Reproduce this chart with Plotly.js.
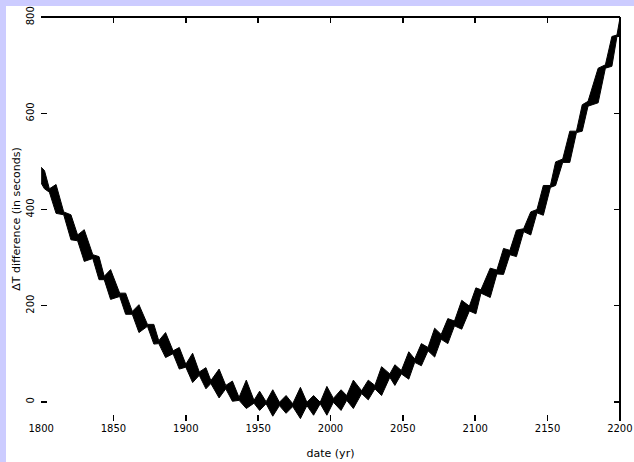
<!DOCTYPE html>
<html>
<head>
<meta charset="utf-8">
<script src="https://cdn.plot.ly/plotly-3.0.1.min.js"></script>
<style>
html,body{margin:0;padding:0;background:#ccccff;width:634px;height:462px;overflow:hidden;}
#chart{position:absolute;left:6px;top:6px;width:628px;height:456px;background:#fff;}
</style>
</head>
<body>
<div id="chart"></div>
<script>
// Envelope of the dense oscillating curve
var years = [1800,1802.3,1805.7,1810.3,1815.6,1820.6,1825.2,1829.8,1835.7,1840,1843.6,1848,1854.3,1858.4,1863,1867.6,1873.5,1877.9,1881.3,1886,1891.2,1895.5,1900,1904.7,1909.3,1913.9,1917.3,1923,1927.6,1932.2,1936.8,1941.8,1947.1,1951,1955.5,1960.1,1964.7,1969.3,1973.9,1979.2,1983.7,1988.3,1992.9,1997.5,2002,2007.3,2011.2,2015.8,2021.5,2026.1,2030.7,2035.3,2041,2044.5,2049,2054.1,2058.2,2062.8,2067.4,2072,2076.5,2081.1,2085.7,2090.7,2096,2100.5,2104,2110.4,2115,2119.6,2124,2128.5,2133.5,2138.4,2142.7,2147.1,2152,2155.6,2160.5,2165.4,2170,2174,2178,2185,2190,2194.5,2198,2200];
var upper = [488,481,443,452,395,389,347,358,306,302,261,275,226,226,188,202,161,161,127,144,106,113,78,101,62,71,44,68,34,43,9,45,3,22,0,25,-1,13,-4,30,-1,13,-1,32,7,25,13,45,23,45,34,73,58,77,65,104,89,121,113,153,140,173,168,211,199,237,233,278,274,319,315,357,360,395,400,450,450,499,505,563,563,618,625,694,701,760,763,797];
var lower = [455,443,436,392,389,337,335,292,298,254,254,213,219,182,182,144,157,120,121,92,100,68,72,40,55,27,38,8,27,1,3,-14,-3,-18,-4,-30,-8,-24,-10,-35,-8,-28,-4,-28,-1,-18,3,-14,17,4,27,13,51,34,58,47,82,75,106,93,130,121,158,151,189,183,226,217,266,265,306,302,354,347,393,388,446,450,498,498,560,563,615,622,694,698,760,760];

var xTicks = [1800,1850,1900,1950,2000,2050,2100,2150,2200];
var yTicks = [0,200,400,600,800];

var traces = [
  {x: years, y: lower, type: 'scatter', mode: 'lines', line: {color: '#000', width: 1}, hoverinfo: 'skip', showlegend: false},
  {x: years, y: upper, type: 'scatter', mode: 'lines', fill: 'tonexty', fillcolor: '#000', line: {color: '#000', width: 1}, hoverinfo: 'skip', showlegend: false}
];

var fontFam = 'DejaVu Sans, Arial, sans-serif';
var layout = {
  width: 628, height: 456,
  margin: {l: 35, r: 14, t: 11, b: 41},
  paper_bgcolor: '#fff', plot_bgcolor: '#fff',
  font: {family: fontFam, size: 10, color: '#000'},
  xaxis: {
    range: [1799.9, 2200.1], tickvals: xTicks, ticktext: xTicks.map(String),
    ticks: 'inside', ticklen: 6, tickwidth: 1.5, tickcolor: '#000',
    showline: false, mirror: 'allticks', showgrid: false, zeroline: false,
    ticklabeloverflow: 'allow', automargin: false,
    tickfont: {size: 10, family: fontFam},
    title: {text: 'date (yr)', font: {size: 11, family: fontFam}, standoff: 16}
  },
  yaxis: {
    range: [-40, 800.5], tickvals: yTicks, ticktext: yTicks.map(String),
    ticks: 'inside', ticklen: 6, tickwidth: 1.5, tickcolor: '#000',
    showline: false, mirror: 'allticks', showgrid: false, zeroline: false,
    ticklabeloverflow: 'allow', automargin: false, ticklabelstandoff: 4,
    tickangle: -90, tickfont: {size: 10, family: fontFam},
    title: {text: 'ΔT difference (in seconds)', font: {size: 11, family: fontFam}, standoff: 2}
  },
  shapes: [
    {type: 'line', xref: 'paper', yref: 'paper', x0: 0, x1: 1, y0: 1, y1: 1, line: {color: '#000', width: 2}},
    {type: 'line', xref: 'paper', yref: 'paper', x0: 1, x1: 1, y0: 0, y1: 1, line: {color: '#000', width: 2}}
  ]
};

Plotly.newPlot('chart', traces, layout, {staticPlot: true, displayModeBar: false});
</script>
</body>
</html>
